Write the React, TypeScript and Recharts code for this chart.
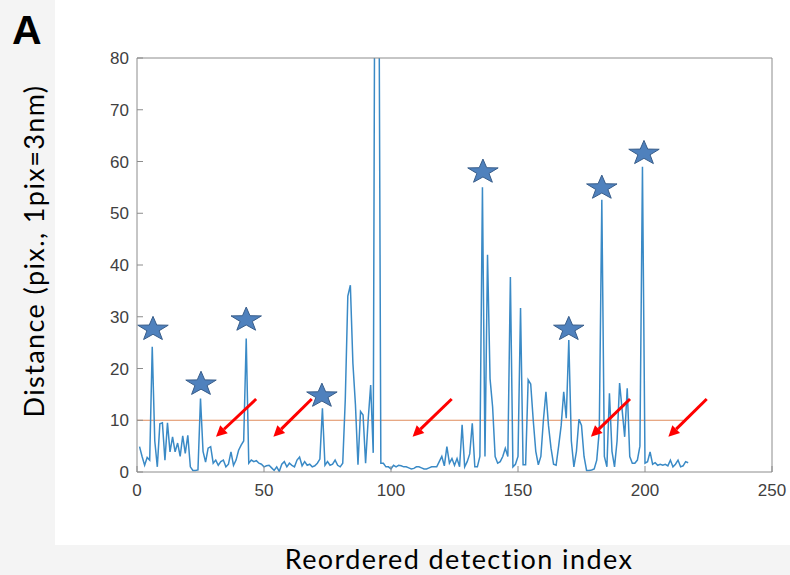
import React from "react";
import { ComposedChart, Line, Scatter, XAxis, YAxis, ReferenceLine } from "recharts";

// reordered detection index 1..217
const detectionIndex = Array.from({ length: 217 }, (_, i) => i + 1);

// distance in pixels (1 pix = 3 nm)
const distance = [
  4.9, 3.0, 1.3, 2.8, 2.3, 24.2, 6.0, 1.0, 9.3, 9.5,
  2.3, 9.5, 3.9, 6.8, 3.9, 5.6, 3.0, 7.0, 3.6, 7.1,
  1.0, 0.3, 0.3, 0.4, 14.2, 4.0, 1.9, 4.6, 4.9, 1.7,
  2.3, 1.3, 2.0, 2.3, 1.0, 1.5, 3.9, 1.3, 2.3, 4.2,
  5.2, 6.0, 25.8, 1.7, 2.3, 2.0, 2.2, 1.7, 1.5, 1.0,
  1.2, 1.3, 0.8, 0.3, 1.0, 0.1, 1.5, 2.0, 1.0, 1.7,
  1.3, 1.0, 2.3, 2.9, 1.2, 2.0, 1.3, 1.5, 1.0, 1.2,
  1.7, 2.5, 12.3, 1.3, 2.0, 1.3, 1.5, 2.3, 1.3, 1.0,
  1.7, 14.0, 34.0, 36.1, 21.0, 13.0, 1.4, 11.7, 11.0, 1.7,
  10.0, 16.8, 3.7, 160.0, 130.0, 1.7, 1.7, 1.0, 1.0, 0.6,
  1.3, 1.0, 1.3, 1.2, 1.0, 1.0, 0.8, 0.6, 0.7, 1.0,
  1.0, 0.8, 0.6, 0.6, 0.8, 1.0, 1.0, 1.0, 2.0, 3.0,
  1.2, 4.9, 1.7, 2.6, 1.3, 2.6, 1.0, 9.1, 1.0, 2.0,
  3.5, 9.4, 1.0, 1.0, 3.0, 55.0, 3.0, 42.0, 18.0, 12.6,
  3.0, 1.7, 2.0, 3.0, 4.6, 3.0, 37.7, 1.0, 1.5, 3.0,
  31.7, 1.4, 1.4, 17.8, 17.0, 10.0, 4.0, 1.4, 3.0, 10.0,
  15.5, 9.0, 4.6, 1.5, 1.3, 5.0, 9.0, 15.5, 10.4, 25.5,
  6.0, 1.0, 4.0, 10.2, 9.0, 3.0, 0.3, 0.3, 0.4, 0.6,
  2.3, 8.0, 52.6, 3.0, 1.0, 15.2, 4.0, 1.0, 6.0, 17.2,
  12.0, 6.8, 16.2, 3.0, 1.7, 1.7, 2.3, 5.0, 59.0, 1.7,
  2.0, 3.9, 1.5, 1.8, 1.3, 1.5, 1.3, 1.5, 1.2, 2.3,
  1.0, 1.5, 2.3, 1.0, 1.2, 2.0, 1.8,
];

const xTicks = [0, 50, 100, 150, 200, 250];
const yTicks = [0, 10, 20, 30, 40, 50, 60, 70, 80];
const threshold = 10;
const thresholdEnd = 215;

// star markers
const starX = [6.3, 25.2, 43, 72.8, 136.2, 170, 183, 199.6];
const starY = [27.6, 17, 29.4, 14.7, 58, 27.6, 54.9, 61.6];

// red arrows (tail -> head)
const arrowTailX = [46.9, 68.8, 123.9, 194.1, 224.3];
const arrowTailY = [14.1, 14.1, 14.1, 14.1, 14.1];
const arrowHeadX = [31.1, 53.7, 108.5, 178.7, 209.2];
const arrowHeadY = [6.8, 6.8, 6.8, 6.8, 6.8];

const lineData = detectionIndex.map((x, i) => ({ x, d: distance[i] }));
const starData = starX.map((x, i) => ({ x, y: starY[i] }));

const axisColor = "#8c8c8c";
const tickStyle = { fontFamily: "Liberation Sans, Arial, sans-serif", fontSize: 17, fill: "#404040" };
const labelFont = { fontFamily: "Lato, sans-serif", fontSize: 27, letterSpacing: 1.4, color: "#000" };

const Star = (props: any) => {
  const { cx, cy } = props;
  const pts: string[] = [];
  for (let k = 0; k < 10; k++) {
    const r = k % 2 === 0 ? 16 : 6.4;
    const a = -Math.PI / 2 + (k * Math.PI) / 5;
    pts.push(`${cx + r * Math.cos(a)},${cy + r * 0.8 * Math.sin(a)}`);
  }
  return <polygon points={pts.join(" ")} fill="#4F81BD" stroke="#385D8A" strokeWidth={1} />;
};

const Arrow = (props: any) => {
  const { x1, y1, x2, y2 } = props;
  const dx = x2 - x1;
  const dy = y2 - y1;
  const len = Math.hypot(dx, dy) || 1;
  const ux = dx / len;
  const uy = dy / len;
  const hl = 11;
  const hw = 5.5;
  const bx = x2 - ux * hl;
  const by = y2 - uy * hl;
  return (
    <g>
      <line x1={x1} y1={y1} x2={bx} y2={by} stroke="#FF0000" strokeWidth={3} />
      <polygon
        points={`${x2},${y2} ${bx - uy * hw},${by + ux * hw} ${bx + uy * hw},${by - ux * hw}`}
        fill="#FF0000"
      />
    </g>
  );
};

export default function App() {
  return (
    <div style={{ position: "absolute", left: 0, top: 0, width: 790, height: 575, background: "#f4f4f4" }}>
      <div style={{ position: "absolute", left: 55, top: 0, width: 735, height: 545, background: "#ffffff" }} />
      <div style={{ position: "absolute", left: 0, top: 0 }}>
        <ComposedChart width={790} height={575} margin={{ top: 57, right: 17, bottom: 73, left: 77 }}>
          <XAxis
            xAxisId="b"
            dataKey="x"
            type="number"
            domain={[0, 250]}
            ticks={xTicks}
            height={30}
            stroke={axisColor}
            tickSize={-6}
            tickMargin={18}
            tick={tickStyle}
          />
          <XAxis
            xAxisId="t"
            orientation="top"
            dataKey="x"
            type="number"
            domain={[0, 250]}
            ticks={xTicks}
            height={1}
            stroke={axisColor}
            tickSize={-6}
            tick={false}
          />
          <YAxis
            yAxisId="l"
            type="number"
            domain={[0, 80]}
            ticks={yTicks}
            allowDataOverflow
            width={60}
            stroke={axisColor}
            tickSize={-6}
            tickMargin={14}
            tick={tickStyle}
          />
          <YAxis
            yAxisId="r"
            orientation="right"
            type="number"
            domain={[0, 80]}
            ticks={yTicks}
            allowDataOverflow
            width={1}
            stroke={axisColor}
            tickSize={-6}
            tick={false}
          />
          <ReferenceLine
            xAxisId="b"
            yAxisId="l"
            segment={[{ x: 0, y: threshold }, { x: thresholdEnd, y: threshold }]}
            stroke="#e08c5c"
            strokeWidth={1}
          />
          <Line
            xAxisId="b"
            yAxisId="l"
            data={lineData}
            dataKey="d"
            type="linear"
            stroke="#3a8ac6"
            strokeWidth={1.5}
            dot={false}
            isAnimationActive={false}
          />
          <Scatter
            xAxisId="b"
            yAxisId="l"
            data={starData}
            dataKey="y"
            shape={(p: any) => <Star {...p} />}
            isAnimationActive={false}
          />
          {arrowTailX.map((tx, i) => (
            <ReferenceLine
              key={i}
              xAxisId="b"
              yAxisId="l"
              segment={[{ x: tx, y: arrowTailY[i] }, { x: arrowHeadX[i], y: arrowHeadY[i] }]}
              shape={(p: any) => <Arrow {...p} />}
            />
          ))}
        </ComposedChart>
      </div>
      <div
        style={{
          position: "absolute",
          left: 12,
          top: 7,
          fontFamily: "Liberation Sans, Arial, sans-serif",
          fontWeight: "bold",
          fontSize: 41,
          lineHeight: "46px",
          color: "#000",
        }}
      >
        A
      </div>
      <div
        style={{
          ...labelFont,
          position: "absolute",
          left: 33,
          top: 251,
          transform: "translate(-50%, -50%) rotate(-90deg)",
          whiteSpace: "nowrap",
        }}
      >
        Distance (pix., 1pix=3nm)
      </div>
      <div
        style={{
          ...labelFont,
          position: "absolute",
          left: 459,
          top: 558,
          transform: "translate(-50%, -50%)",
          whiteSpace: "nowrap",
        }}
      >
        Reordered detection index
      </div>
    </div>
  );
}
